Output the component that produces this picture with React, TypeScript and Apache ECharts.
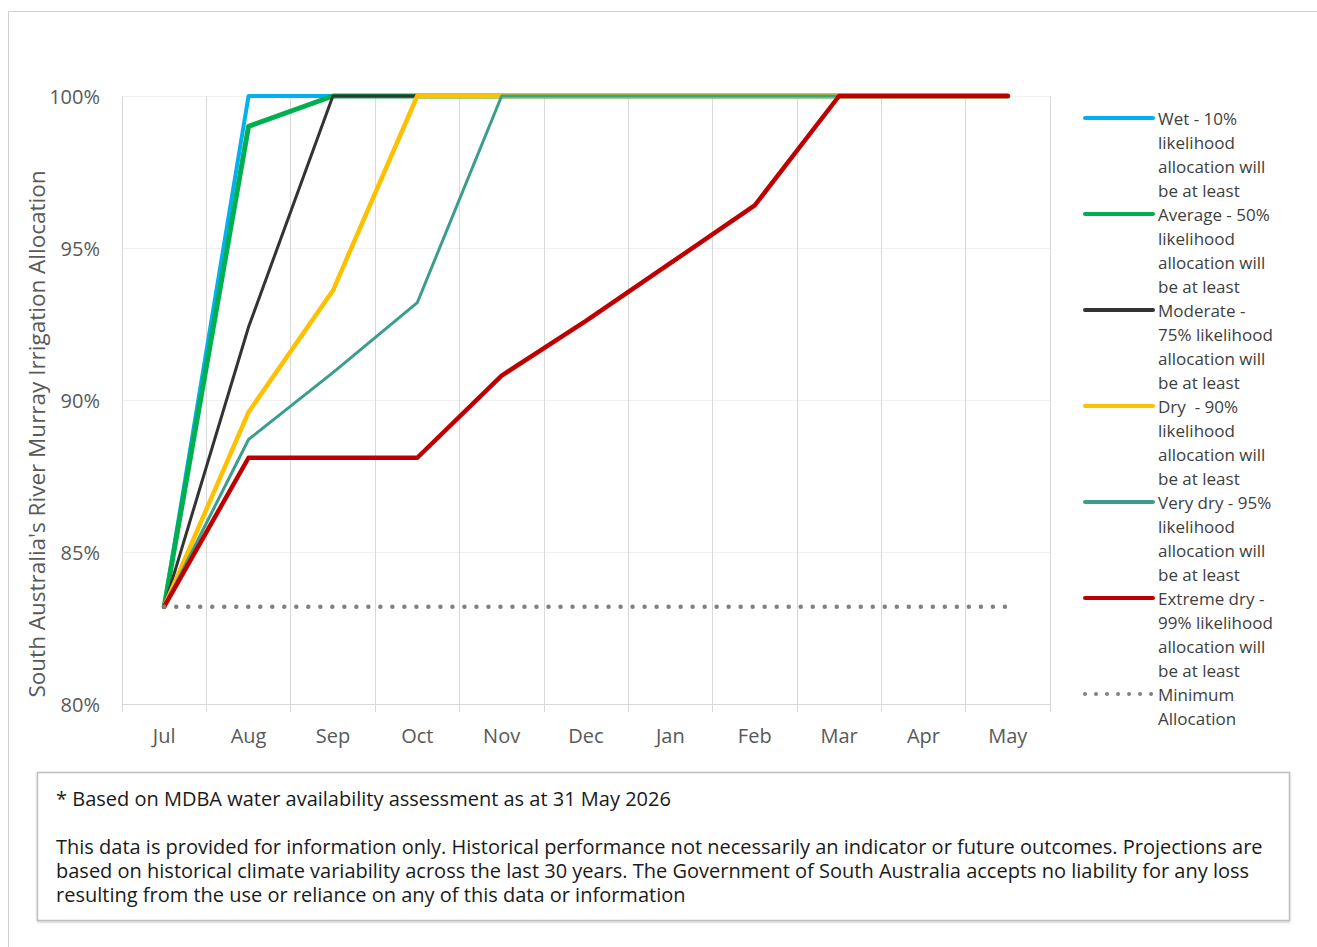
import React, { useEffect, useRef } from "react";
import * as echarts from "echarts";

const months = ["Jul", "Aug", "Sep", "Oct", "Nov", "Dec", "Jan", "Feb", "Mar", "Apr", "May"];

const wet = [83.2, 100, 100, 100, 100, 100, 100, 100, 100, 100, 100];
const average = [83.2, 99.0, 100, 100, 100, 100, 100, 100, 100, 100, 100];
const moderate = [83.2, 92.4, 100, 100, 100, 100, 100, 100, 100, 100, 100];
const dry = [83.2, 89.6, 93.6, 100, 100, 100, 100, 100, 100, 100, 100];
const veryDry = [83.2, 88.7, 90.9, 93.2, 100, 100, 100, 100, 100, 100, 100];
const extremeDry = [83.2, 88.1, 88.1, 88.1, 90.8, 92.6, 94.5, 96.4, 100, 100, 100];
const minimum = [83.2, 83.2, 83.2, 83.2, 83.2, 83.2, 83.2, 83.2, 83.2, 83.2, 83.2];

const seriesNames = [
  "Wet - 10% likelihood allocation will be at least",
  "Average - 50% likelihood allocation will be at least",
  "Moderate - 75% likelihood allocation will be at least",
  "Dry  - 90% likelihood allocation will be at least",
  "Very dry - 95% likelihood allocation will be at least",
  "Extreme dry - 99% likelihood allocation will be at least",
  "Minimum Allocation",
];

const legendLines = [
  ["Wet - 10%", "likelihood", "allocation will", "be at least"],
  ["Average - 50%", "likelihood", "allocation will", "be at least"],
  ["Moderate -", "75% likelihood", "allocation will", "be at least"],
  ["Dry  - 90%", "likelihood", "allocation will", "be at least"],
  ["Very dry - 95%", "likelihood", "allocation will", "be at least"],
  ["Extreme dry -", "99% likelihood", "allocation will", "be at least"],
  ["Minimum", "Allocation"],
];

const yTicks = { min: 80, max: 100, interval: 5 };

const yAxisTitle = "South Australia's River Murray Irrigation Allocation";

const footerNote = "* Based on MDBA water availability assessment as at 31 May 2026";
const footerLines = [
  "This data is provided for information only. Historical performance not necessarily an indicator or future outcomes. Projections are",
  "based on historical climate variability across the last 30 years. The Government of South Australia accepts no liability for any loss",
  "resulting from the use or reliance on any of this data or information",
];

const FONT = "'Open Sans', 'Noto Sans', sans-serif";

export default function App() {
  const ref = useRef<HTMLDivElement>(null);

  useEffect(() => {
    if (!ref.current) return;
    const chart = echarts.init(ref.current, undefined, { renderer: "svg" });

    const seriesData = [wet, average, moderate, dry, veryDry, extremeDry, minimum];
    const colors = ["#00b0f0", "#00b050", "#333333", "#ffc000", "#3a9e8a", "#c00000", "#808080"];
    const widths = [4, 5, 3, 4.5, 3, 4.5, 4.5];

    const LH = 24;
    const MAXLINES = 4;
    const BLOCK = 2 * MAXLINES - 1; // lines in each (padded) legend label block

    const series = seriesData.map((d, i) => ({
      name: seriesNames[i],
      type: "line",
      data: d,
      symbol: "none",
      clip: false,
      z: 2 + i,
      lineStyle:
        i === 6
          ? { color: colors[i], width: widths[i], type: [0.01, 12], cap: "round" }
          : { color: colors[i], width: widths[i], cap: "round", join: "round" },
      itemStyle: { color: colors[i] },
      emphasis: { disabled: true },
    }));

    const legendData = seriesNames.map((n, i) => ({
      name: n,
      lineStyle:
        i === 6
          ? { width: 4, type: [0.01, 11], cap: "round", color: colors[i] }
          : { width: 4, type: "solid", cap: "round", color: colors[i] },
    }));

    // blank lines above/below keep each icon level with the first line of its label
    const legendLabel = (name: string) => {
      const idx = seriesNames.indexOf(name);
      if (idx < 0) return name;
      const lines = legendLines[idx];
      const above = MAXLINES - 1;
      const below = BLOCK - above - lines.length;
      return [...Array(above).fill(""), ...lines, ...Array(below).fill("")].join("\n");
    };

    chart.setOption({
      animation: false,
      textStyle: { fontFamily: FONT },
      grid: { left: 122, right: 267, top: 96, bottom: 243, containLabel: false },
      legend: {
        orient: "vertical",
        left: 1083,
        top: 118 - (BLOCK * LH) / 2,
        padding: 0,
        itemGap: -(MAXLINES - 1) * LH,
        itemWidth: 68,
        itemHeight: 14,
        selectedMode: false,
        itemStyle: { opacity: 0 },
        data: legendData,
        formatter: legendLabel,
        textStyle: { fontFamily: FONT, fontSize: 17, lineHeight: LH, color: "#404040" },
      },
      xAxis: {
        type: "category",
        data: months,
        boundaryGap: true,
        axisLine: { show: true, lineStyle: { color: "#d9d9d9", width: 1 } },
        axisTick: { show: true, length: 8, lineStyle: { color: "#d9d9d9" } },
        axisLabel: { margin: 21, fontSize: 20, color: "#595959", fontFamily: FONT },
        splitLine: { show: true, lineStyle: { color: "#d9d9d9", width: 1 } },
      },
      yAxis: {
        type: "value",
        min: yTicks.min,
        max: yTicks.max,
        interval: yTicks.interval,
        name: yAxisTitle,
        nameLocation: "middle",
        nameGap: 74,
        nameMoveOverlap: false,
        nameTextStyle: { fontSize: 22.5, color: "#595959", fontFamily: FONT, padding: [0, 68, 0, 0] },
        axisLine: { show: false },
        axisTick: { show: false },
        axisLabel: {
          margin: 22,
          fontSize: 20,
          color: "#595959",
          fontFamily: FONT,
          formatter: (v: number) => `${v}%`,
        },
        splitLine: { show: true, lineStyle: { color: "#f0f0f0", width: 1 } },
      },
      graphic: [
        {
          type: "rect",
          silent: true,
          shape: { x: 8.5, y: 11.5, width: 1330, height: 960 },
          style: { fill: "none", stroke: "#d0d0d0", lineWidth: 1 },
        },
        {
          type: "rect",
          silent: true,
          shape: { x: 37.5, y: 772.5, width: 1252, height: 148 },
          style: {
            fill: "#ffffff",
            stroke: "#bfbfbf",
            lineWidth: 1.5,
            shadowBlur: 2,
            shadowOffsetY: 1,
            shadowColor: "rgba(0,0,0,0.25)",
          },
        },
        {
          type: "text",
          silent: true,
          x: 56,
          y: 798,
          style: {
            text: footerNote,
            fontFamily: FONT,
            fontSize: 20,
            lineHeight: 24,
            fill: "#1a1a1a",
            verticalAlign: "middle",
          },
        },
        {
          type: "text",
          silent: true,
          x: 56,
          y: 834,
          style: {
            text: footerLines.join("\n"),
            fontFamily: FONT,
            fontSize: 20,
            lineHeight: 24,
            fill: "#1a1a1a",
            verticalAlign: "top",
          },
        },
      ],
      series,
    });

    return () => chart.dispose();
  }, []);

  return (
    <div
      ref={ref}
      style={{ position: "absolute", left: 0, top: 0, width: 1317, height: 947, background: "#ffffff" }}
    />
  );
}
